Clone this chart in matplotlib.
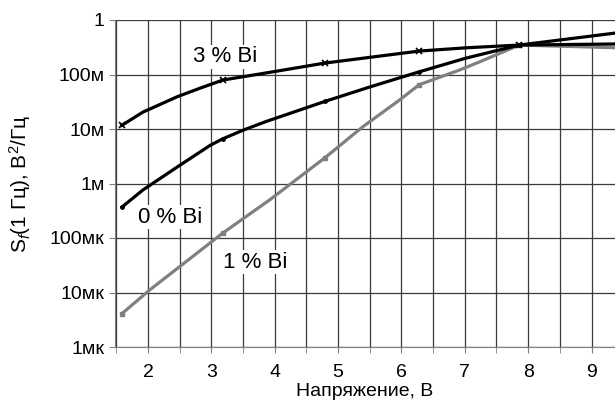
import numpy as np
import matplotlib
matplotlib.use("Agg")
import matplotlib.pyplot as plt
from matplotlib.ticker import FixedLocator, MultipleLocator

plt.rcParams['font.family'] = ['Liberation Sans', 'DejaVu Sans']
plt.rcParams['mathtext.fontset'] = 'custom'
plt.rcParams['mathtext.rm'] = 'Liberation Sans'
plt.rcParams['mathtext.it'] = 'Liberation Sans:italic'

# (voltage, V ; S_f, V^2/Hz)
v_bi3 = [1.59, 1.92, 2.46, 2.82, 3.18, 3.50, 4.03, 4.79, 6.28, 7.02, 7.86, 9.37]
s_bi3 = [0.0117, 0.0204, 0.039, 0.056, 0.079, 0.091, 0.115, 0.162, 0.269, 0.309, 0.347, 0.363]
mk_bi3 = [0, 4, 7, 8, 10]

v_bi0 = [1.59, 1.92, 2.46, 2.98, 3.18, 3.50, 3.87, 4.79, 5.50, 6.28, 7.02, 7.86, 9.37]
s_bi0 = [3.7e-4, 7.6e-4, 2.0e-3, 5.0e-3, 6.6e-3, 9.5e-3, 1.38e-2, 3.2e-2, 5.9e-2, 0.112, 0.20, 0.347, 0.575]
mk_bi0 = [0, 4, 7, 9, 11]

v_bi1 = [1.59, 2.03, 3.18, 3.92, 4.79, 5.39, 5.97, 6.28, 6.91, 7.23, 7.86, 9.37]
s_bi1 = [4.1e-6, 1.12e-5, 1.23e-4, 5.0e-4, 2.95e-3, 1.10e-2, 3.4e-2, 6.5e-2, 0.12, 0.17, 0.347, 0.31]
mk_bi1 = [0, 2, 4, 7, 10]

y_ticks = [1e-6, 1e-5, 1e-4, 1e-3, 1e-2, 1e-1, 1]
y_labels = ['1мк', '10мк', '100мк', '1м', '10м', '100м', '1']

fig = plt.figure(figsize=(6.15, 4.03), dpi=100)
ax = fig.add_axes([115/615, 1-347/403, 1-115/615, 327/403])

grid_c = '#3a3a3a'
ax.plot(v_bi3, s_bi3, color='black', lw=2.3, marker='x', ms=5, mew=1.2,
        markevery=mk_bi3, zorder=4)
ax.plot(v_bi0, s_bi0, color='black', lw=2.3, marker='o', ms=2.5,
        markevery=mk_bi0, zorder=4)
ax.plot(v_bi1, s_bi1, color='#808080', lw=2.3, marker='s', ms=3.5,
        markevery=mk_bi1, zorder=3)

ax.set_yscale('log')
ax.set_xlim(1.48, 9.37)
ax.set_ylim(1e-6, 1)
ax.yaxis.set_major_locator(FixedLocator(y_ticks))
ax.yaxis.set_minor_locator(FixedLocator([]))
ax.set_yticklabels(y_labels)
ax.xaxis.set_major_locator(MultipleLocator(1))
ax.xaxis.set_minor_locator(MultipleLocator(0.5))

ax.grid(True, which='major', color=grid_c, lw=0.9)
ax.grid(True, which='minor', axis='x', color=grid_c, lw=0.9)
ax.tick_params(axis='both', which='major', labelsize=14, length=4,
               color='#808080', direction='out')
ax.tick_params(axis='x', which='minor', length=4, color='#808080')
ax.tick_params(axis='x', pad=8)
for s in ['top', 'right']:
    ax.spines[s].set_visible(False)
ax.spines['left'].set_color('#808080')
ax.spines['bottom'].set_color('#808080')

box = dict(facecolor='white', edgecolor='none', pad=1)
ax.text(3.21, 0.21, '3 % Bi', fontsize=16, ha='center', va='center',
        bbox=box, zorder=5)
ax.text(2.35, 2.4e-4, '0 % Bi', fontsize=16, ha='center', va='center',
        bbox=box, zorder=5)
ax.text(3.69, 3.6e-5, '1 % Bi', fontsize=16, ha='center', va='center',
        bbox=box, zorder=5)

ax.set_xlabel('Напряжение, В', fontsize=14, labelpad=2)
ax.set_ylabel(r'$\mathrm{S}_{f}$(1 Гц), В$^2$/Гц', fontsize=15, labelpad=12)

fig.savefig('out.png', dpi=100)
